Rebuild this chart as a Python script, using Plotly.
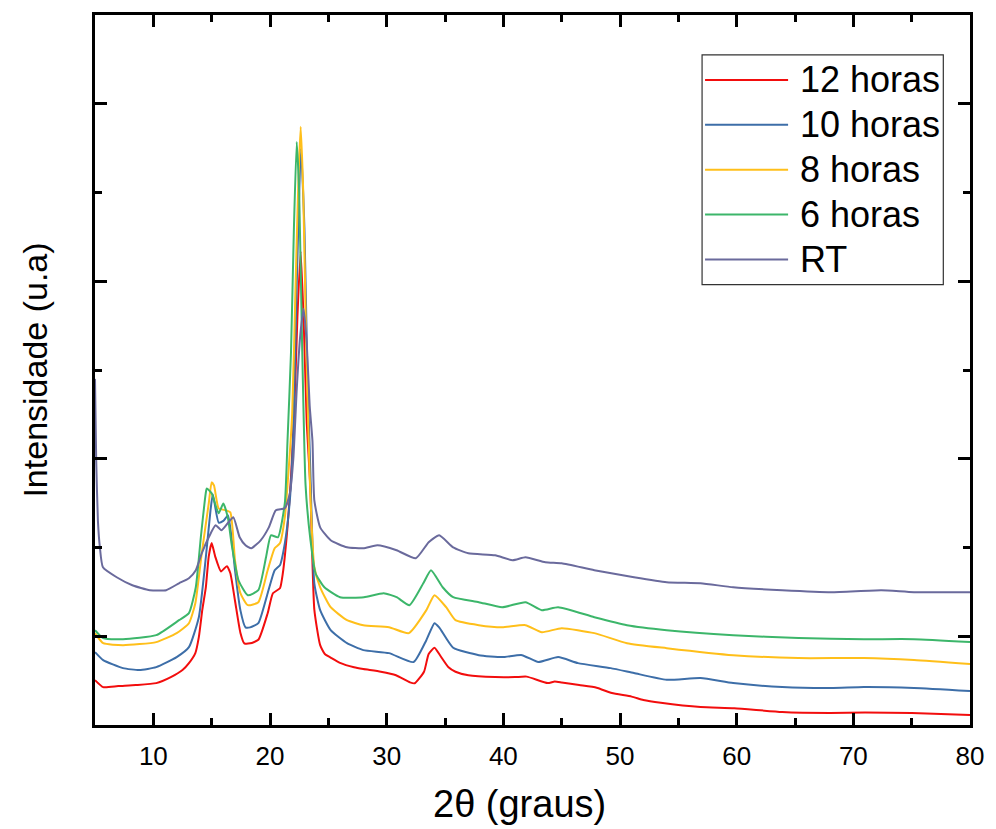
import plotly.graph_objects as go

# XRD patterns (2theta in degrees, intensity in arbitrary units)
series_names = ["12 horas", "10 horas", "8 horas", "6 horas", "RT"]
series_colors = ["#f20d0d", "#3d6ea8", "#ffbf1a", "#3cb66a", "#6a6a9c"]

x_12h = [5.0, 5.7, 7.0, 8.5, 10.25, 11.5, 12.5, 13.05, 13.6, 13.9, 14.2, 14.5, 14.75, 15.0, 15.3,
         15.8, 16.3, 16.6, 17.0, 17.46, 17.8, 18.3, 19.0, 19.8, 20.25, 20.85, 21.1, 21.5, 21.8,
         22.1, 22.35, 22.63, 22.9, 23.15, 23.45, 23.8, 24.3, 24.7, 25.2, 26.0, 27.2, 28.0, 29.5,
         30.8, 32.0, 32.4, 33.2, 33.6, 34.1, 34.6, 35.3, 35.9, 37.0, 39.3, 41.0, 42.0, 43.8, 44.4,
         45.0, 46.5, 48.0, 49.3, 51.0, 52.0, 53.5, 56.9, 59.8, 63.9, 68.0, 71.0, 75.0, 80.0]
y_12h = [506, 427, 439, 450, 472, 540, 619, 697, 810, 990, 1300, 1550, 1900, 2050, 1900,
         1730, 1790, 1710, 1400, 1040, 920, 920, 960, 1260, 1485, 1540, 1710, 2230, 2790,
         3600, 4600, 5340, 4500, 3400, 2700, 1300, 900, 800, 760, 700, 650, 630, 600,
         560, 480, 470, 600, 800, 870, 780, 650, 600, 560, 540, 540, 545, 472, 490,
         480, 450, 420, 360, 320, 281, 250, 202, 190, 146, 135, 140, 135, 112]

x_10h = [5.0, 5.7, 7.4, 8.8, 10.25, 12.0, 13.05, 13.9, 14.5, 14.9, 15.1, 15.6, 16.0, 16.4, 16.8,
         17.0, 17.46, 17.9, 18.3, 19.0, 19.8, 20.4, 20.85, 21.27, 21.7, 22.0, 22.3, 22.65, 22.95,
         23.2, 23.45, 23.8, 24.3, 25.2, 26.6, 28.0, 30.2, 32.3, 33.4, 34.1, 34.5, 35.7, 37.9,
         39.9, 41.6, 43.0, 44.7, 46.4, 49.2, 51.2, 54.0, 56.9, 59.7, 63.9, 68.1, 70.9, 75.2, 80.0]
y_10h = [821, 731, 641, 619, 652, 765, 877, 1215, 1890, 2419, 2600, 2280, 2300, 2360, 2000,
         1744, 1294, 1100, 1100, 1147, 1485, 1744, 1800, 2047, 2531, 3300, 5000, 6500, 5600,
         4000, 2900, 1597, 1294, 1069, 922, 844, 810, 709, 956, 1147, 1100, 870, 787,
         765, 787, 709, 765, 697, 641, 585, 510, 529, 472, 427, 416, 427, 416, 382]

x_8h = [5.0, 5.7, 7.4, 10.25, 12.0, 13.05, 13.6, 14.15, 14.75, 15.0, 15.2, 15.6, 16.2, 16.6,
        17.0, 17.46, 18.1, 19.0, 19.8, 20.4, 20.85, 21.27, 21.53, 21.9, 22.2, 22.45, 22.63,
        22.85, 23.1, 23.4, 23.8, 24.3, 25.2, 26.6, 28.0, 30.2, 31.9, 33.4, 34.1, 35.1, 35.9,
        37.9, 39.9, 41.9, 43.3, 45.0, 47.8, 50.6, 54.0, 59.7, 65.3, 70.9, 75.2, 80.0]
y_8h = [1035, 922, 900, 934, 1035, 1147, 1372, 1935, 2497, 2734, 2700, 2441, 2419, 2396,
        1856, 1485, 1350, 1384, 1744, 1991, 2047, 2340, 2756, 3500, 5000, 6200, 6740,
        6000, 4300, 2800, 1777, 1552, 1327, 1181, 1125, 1102, 1035, 1294, 1462, 1327, 1181,
        1125, 1102, 1125, 1046, 1091, 1035, 922, 866, 787, 754, 754, 731, 686]

x_6h = [5.0, 5.7, 7.4, 10.25, 12.2, 13.05, 13.64, 14.07, 14.49, 14.58, 15.0, 15.6, 16.0, 16.4,
        16.7, 17.3, 18.1, 19.0, 19.66, 20.08, 20.68, 21.27, 21.5, 21.8, 22.05, 22.29, 22.5,
        22.75, 23.05, 23.47, 23.9, 24.66, 26.0, 28.05, 29.75, 30.85, 31.95, 33.14, 33.8, 34.8,
        35.7, 37.9, 39.9, 41.9, 43.3, 44.7, 47.8, 50.6, 54.0, 59.7, 65.3, 70.9, 75.2, 80.0]
y_6h = [1069, 979, 967, 1012, 1181, 1260, 1552, 2115, 2610, 2666, 2610, 2385, 2497, 2329,
        2047, 1631, 1462, 1519, 1890, 2137, 2115, 2500, 3200, 4200, 5600, 6570, 6000,
        4300, 2700, 2081, 1710, 1552, 1440, 1440, 1485, 1440, 1350, 1597, 1744, 1552,
        1440, 1384, 1327, 1384, 1294, 1327, 1215, 1125, 1069, 1012, 979, 967, 967, 934]

x_rt = [5.0, 5.1, 5.25, 5.42, 5.68, 6.86, 8.2, 9.7, 11.1, 12.2, 13.05, 13.64, 14.15, 14.75,
        15.34, 15.85, 16.44, 16.86, 17.4, 17.9, 18.4, 19.2, 19.9, 20.5, 21.27, 21.7, 22.0,
        22.3, 22.6, 22.88, 23.15, 23.4, 23.64, 23.8, 24.3, 25.2, 26.6, 28.0, 29.2, 30.85,
        32.5, 33.6, 34.5, 35.7, 37.0, 39.3, 40.8, 41.9, 43.6, 45.0, 47.8, 51.2, 54.0, 56.9,
        59.7, 63.9, 68.1, 72.4, 75.2, 80.0]
y_rt = [3900, 3000, 2300, 2000, 1777, 1665, 1575, 1519, 1519, 1597, 1654, 1744, 1935, 2115,
        2250, 2194, 2284, 2340, 2115, 2025, 1991, 2081, 2227, 2419, 2441, 2610, 3000,
        3800, 4400, 4690, 4300, 3600, 3200, 2531, 2227, 2081, 2002, 1991, 2025, 1969,
        1879, 2059, 2137, 2002, 1935, 1912, 1856, 1890, 1834, 1822, 1744, 1665, 1609, 1597,
        1552, 1519, 1497, 1519, 1497, 1497]

xs = [x_12h, x_10h, x_8h, x_6h, x_rt]
ys = [y_12h, y_10h, y_8h, y_6h, y_rt]

FONT = "Liberation Sans, Arial, sans-serif"

fig = go.Figure()
for name, color, x, y in zip(series_names, series_colors, xs, ys):
    fig.add_trace(go.Scatter(
        x=x, y=y, name=name, mode="lines",
        line=dict(color=color, width=2, shape="spline", smoothing=0.5),
        showlegend=False,
    ))

# Framed legend drawn in paper coordinates
L_X0, L_X1 = 0.6938, 0.9695
L_Y0, L_Y1 = 0.6203, 0.9437
ROW_TOP, ROW_STEP = 0.9086, 0.0632
shapes = [dict(type="rect", xref="paper", yref="paper", x0=L_X0, x1=L_X1, y0=L_Y0, y1=L_Y1,
               line=dict(color="#333333", width=1.2), fillcolor="rgba(0,0,0,0)")]
annotations = []
for i, (name, color) in enumerate(zip(series_names, series_colors)):
    yr = ROW_TOP - i * ROW_STEP
    shapes.append(dict(type="line", xref="paper", yref="paper", x0=0.6972, x1=0.7921,
                       y0=yr, y1=yr, line=dict(color=color, width=2)))
    annotations.append(dict(xref="paper", yref="paper", x=0.8034, y=yr, text=name,
                            showarrow=False, xanchor="left", yanchor="middle",
                            font=dict(family=FONT, size=36, color="black")))

# x-axis title, set slightly left of the axis centre
annotations.append(dict(xref="paper", yref="paper", x=0.485, y=-0.111, text="2θ (graus)",
                        showarrow=False, xanchor="center", yanchor="middle",
                        font=dict(family=FONT, size=38, color="black")))

fig.update_layout(
    width=996, height=829,
    margin=dict(l=95, r=16, t=14, b=104),
    paper_bgcolor="white", plot_bgcolor="white",
    font=dict(family=FONT, color="black"),
    shapes=shapes, annotations=annotations,
)

fig.update_xaxes(
    range=[5, 80], tickvals=[10, 20, 30, 40, 50, 60, 70, 80],
    ticks="inside", ticklen=12, tickwidth=2.5, tickcolor="black",
    minor=dict(ticks="inside", ticklen=7, tickwidth=2.5, tickcolor="black",
               tickvals=[15, 25, 35, 45, 55, 65, 75]),
    showline=True, linewidth=2.5, linecolor="black", mirror="allticks",
    showgrid=False, zeroline=False,
    tickfont=dict(family=FONT, size=26, color="black"), ticklabelstandoff=6,
)
fig.update_yaxes(
    range=[0, 8000], tickvals=[1000, 3000, 5000, 7000], showticklabels=False,
    ticks="inside", ticklen=12, tickwidth=2.5, tickcolor="black",
    minor=dict(ticks="inside", ticklen=7, tickwidth=2.5, tickcolor="black",
               tickvals=[2000, 4000, 6000]),
    showline=True, linewidth=2.5, linecolor="black", mirror="allticks",
    showgrid=False, zeroline=False,
    title=dict(text="Intensidade (u.a)", font=dict(family=FONT, size=34, color="black"), standoff=35),
)

fig.write_html("out.html")
